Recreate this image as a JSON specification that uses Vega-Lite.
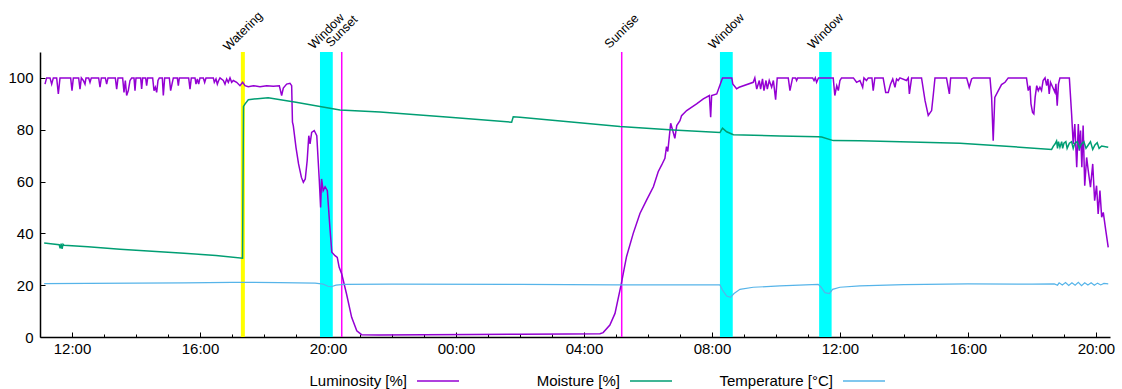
{
  "$schema": "https://vega.github.io/schema/vega-lite/v6.json",
  "width": 1070,
  "height": 285,
  "autosize": {"type": "none"},
  "padding": {"left": 40, "top": 52, "right": 12, "bottom": 52},
  "background": "white",
  "config": {"font": "Liberation Sans", "view": {"stroke": null}},
  "datasets": {
    "windows": [
      {"h": 19.75, "h2": 20.15},
      {"h": 32.25, "h2": 32.65},
      {"h": 35.35, "h2": 35.74}
    ],
    "watering": [{"h": 17.34}],
    "sun": [{"h": 20.43}, {"h": 29.18}],
    "labels": [
      {"h": 17.34, "label": "Watering"},
      {"h": 19.95, "label": "Window"},
      {"h": 20.43, "label": "Sunset"},
      {"h": 29.18, "label": "Sunrise"},
      {"h": 32.45, "label": "Window"},
      {"h": 35.55, "label": "Window"}
    ],
    "lum": [
      {"h":11.156,"v":97.6},{"h":11.208,"v":100},{"h":11.313,"v":100},{"h":11.365,"v":97.6},{"h":11.417,"v":100},
      {"h":11.521,"v":100},{"h":11.573,"v":93.8},{"h":11.625,"v":100},{"h":11.958,"v":100},{"h":12.0,"v":95.1},
      {"h":12.042,"v":100},{"h":12.208,"v":100},{"h":12.25,"v":95.7},{"h":12.292,"v":100},{"h":12.354,"v":99.0},
      {"h":12.406,"v":97.6},{"h":12.438,"v":100},{"h":12.521,"v":100},{"h":12.563,"v":98.3},{"h":12.604,"v":100},
      {"h":12.833,"v":100},{"h":12.875,"v":96.4},{"h":12.917,"v":100},{"h":13.042,"v":100},{"h":13.083,"v":97.6},
      {"h":13.125,"v":100},{"h":13.354,"v":100},{"h":13.396,"v":95.7},{"h":13.438,"v":100},{"h":13.583,"v":100},
      {"h":13.625,"v":94.4},{"h":13.667,"v":99.0},{"h":13.708,"v":93.2},{"h":13.76,"v":95.1},{"h":13.813,"v":99.0},
      {"h":13.865,"v":100},{"h":13.938,"v":100},{"h":13.969,"v":95.1},{"h":14.0,"v":100},{"h":14.146,"v":100},
      {"h":14.177,"v":95.7},{"h":14.208,"v":100},{"h":14.302,"v":100},{"h":14.333,"v":97.0},{"h":14.365,"v":100},
      {"h":14.521,"v":100},{"h":14.563,"v":95.1},{"h":14.604,"v":96.4},{"h":14.646,"v":94.4},{"h":14.688,"v":99.0},
      {"h":14.729,"v":100},{"h":14.823,"v":100},{"h":14.854,"v":93.2},{"h":14.896,"v":100},{"h":15.042,"v":100},
      {"h":15.083,"v":95.1},{"h":15.125,"v":97.6},{"h":15.167,"v":100},{"h":15.292,"v":100},{"h":15.323,"v":97.0},
      {"h":15.354,"v":100},{"h":15.646,"v":100},{"h":15.688,"v":95.7},{"h":15.729,"v":100},{"h":15.844,"v":100},
      {"h":15.875,"v":97.6},{"h":15.917,"v":99.6},{"h":15.958,"v":97.6},{"h":16.0,"v":100},{"h":16.104,"v":100},
      {"h":16.146,"v":98.3},{"h":16.188,"v":100},{"h":16.417,"v":100},{"h":16.448,"v":98.3},{"h":16.5,"v":99.6},
      {"h":16.542,"v":97.6},{"h":16.583,"v":99.0},{"h":16.625,"v":100},{"h":16.729,"v":99.0},{"h":16.781,"v":97.6},
      {"h":16.833,"v":99.6},{"h":16.885,"v":98.3},{"h":16.938,"v":100},{"h":16.99,"v":98.3},{"h":17.042,"v":99.0},
      {"h":17.146,"v":98.3},{"h":17.25,"v":97.0},{"h":17.333,"v":98.3},{"h":17.406,"v":97.0},{"h":17.51,"v":96.6},
      {"h":17.667,"v":97.0},{"h":17.875,"v":96.6},{"h":18.083,"v":97.0},{"h":18.292,"v":96.8},{"h":18.479,"v":97.0},
      {"h":18.552,"v":93.2},{"h":18.604,"v":96.1},{"h":18.708,"v":97.6},{"h":18.813,"v":97.9},{"h":18.865,"v":97.0},
      {"h":18.89,"v":82.9},{"h":18.916,"v":81.6},{"h":19.0,"v":73.2},{"h":19.08,"v":66.8},{"h":19.17,"v":61.6},
      {"h":19.23,"v":59.7},{"h":19.29,"v":61.0},{"h":19.35,"v":68.1},{"h":19.40,"v":77.7},{"h":19.44,"v":74.5},
      {"h":19.49,"v":79.0},{"h":19.57,"v":79.7},{"h":19.65,"v":77.7},{"h":19.73,"v":60.1},{"h":19.77,"v":50.0},
      {"h":19.80,"v":61.0},{"h":19.85,"v":56.5},{"h":19.91,"v":58.0},{"h":19.98,"v":56.5},{"h":20.06,"v":42.3},
      {"h":20.12,"v":32.7},{"h":20.22,"v":31.4},{"h":20.29,"v":30.7},{"h":20.35,"v":26.9},{"h":20.43,"v":24.3},
      {"h":20.58,"v":16.6},{"h":20.74,"v":7.6},{"h":20.90,"v":2.4},{"h":21.05,"v":0.9},{"h":21.6,"v":0.8},
      {"h":23.0,"v":0.9},{"h":24.5,"v":1.0},{"h":26.0,"v":1.1},{"h":27.5,"v":1.2},{"h":28.5,"v":1.3},
      {"h":28.6,"v":1.7},{"h":28.81,"v":4.6},{"h":28.97,"v":9.1},{"h":29.16,"v":20.1},{"h":29.33,"v":31.0},
      {"h":29.54,"v":40.0},{"h":29.75,"v":47.7},{"h":29.96,"v":52.9},{"h":30.17,"v":58.0},{"h":30.32,"v":63.8},
      {"h":30.43,"v":66.4},{"h":30.53,"v":69.0},{"h":30.58,"v":73.5},{"h":30.62,"v":71.6},{"h":30.71,"v":82.5},
      {"h":30.77,"v":79.9},{"h":30.84,"v":76.7},{"h":30.90,"v":81.6},{"h":31.0,"v":83.5},{"h":31.05,"v":85.4},
      {"h":31.21,"v":87.4},{"h":31.52,"v":90.0},{"h":31.73,"v":91.9},{"h":31.92,"v":93.2},{"h":31.96,"v":84.8},
      {"h":31.99,"v":93.2},{"h":32.15,"v":93.8},{"h":32.33,"v":100},{"h":32.62,"v":100},{"h":32.65,"v":97.7},
      {"h":32.77,"v":95.8},{"h":32.85,"v":96.4},{"h":33.29,"v":98.3},{"h":33.34,"v":100},{"h":33.40,"v":95.7},
      {"h":33.48,"v":99.0},{"h":33.52,"v":95.7},{"h":33.58,"v":99.6},{"h":33.625,"v":95.1},{"h":33.69,"v":99.0},
      {"h":33.73,"v":95.7},{"h":33.79,"v":99.0},{"h":33.865,"v":96.4},{"h":33.92,"v":99.0},{"h":33.99,"v":91.6},
      {"h":34.04,"v":100},{"h":34.385,"v":100},{"h":34.438,"v":95.1},{"h":34.52,"v":100},{"h":34.615,"v":100},
      {"h":34.646,"v":99.0},{"h":34.68,"v":100},{"h":35.146,"v":100},{"h":35.19,"v":99.0},{"h":35.23,"v":100},
      {"h":35.27,"v":98.3},{"h":35.33,"v":100},{"h":35.79,"v":100},{"h":35.84,"v":93.2},{"h":35.90,"v":97.0},
      {"h":35.95,"v":95.1},{"h":36.0,"v":99.0},{"h":36.05,"v":100},{"h":36.42,"v":100},{"h":36.52,"v":98.3},
      {"h":36.625,"v":99.0},{"h":36.71,"v":96.4},{"h":36.75,"v":100},{"h":36.83,"v":99.0},{"h":36.885,"v":100},
      {"h":37.0,"v":100},{"h":37.04,"v":95.1},{"h":37.09,"v":100},{"h":37.35,"v":100},{"h":37.43,"v":94.4},
      {"h":37.51,"v":94.4},{"h":37.58,"v":97.6},{"h":37.65,"v":99.6},{"h":37.72,"v":96.4},{"h":37.77,"v":99.6},
      {"h":37.82,"v":99.0},{"h":37.875,"v":100},{"h":38.08,"v":99.0},{"h":38.135,"v":100},{"h":38.17,"v":93.8},
      {"h":38.24,"v":100},{"h":38.55,"v":100},{"h":38.66,"v":91.2},{"h":38.76,"v":85.5},{"h":38.865,"v":87.4},
      {"h":38.92,"v":93.8},{"h":38.97,"v":100},{"h":39.33,"v":100},{"h":39.42,"v":93.8},{"h":39.46,"v":100},
      {"h":39.96,"v":100},{"h":40.04,"v":96.4},{"h":40.115,"v":99.6},{"h":40.17,"v":100},{"h":40.69,"v":100},
      {"h":40.74,"v":92.5},{"h":40.79,"v":75.8},{"h":40.84,"v":92.5},{"h":40.95,"v":95.1},{"h":41.05,"v":97.4},
      {"h":41.16,"v":98.3},{"h":41.26,"v":100},{"h":41.83,"v":100},{"h":41.885,"v":95.1},{"h":41.94,"v":97.0},
      {"h":41.97,"v":90.0},{"h":42.02,"v":86.7},{"h":42.06,"v":86.1},{"h":42.10,"v":92.5},{"h":42.15,"v":97.0},
      {"h":42.20,"v":95.1},{"h":42.25,"v":96.4},{"h":42.30,"v":95.1},{"h":42.35,"v":99.0},{"h":42.41,"v":100},
      {"h":42.46,"v":97.0},{"h":42.5,"v":99.6},{"h":42.54,"v":93.8},{"h":42.58,"v":98.3},{"h":42.65,"v":96.4},
      {"h":42.72,"v":94.4},{"h":42.75,"v":97.7},{"h":42.79,"v":89.3},{"h":42.83,"v":97.7},{"h":42.875,"v":100},
      {"h":43.17,"v":100},{"h":43.24,"v":86.1},{"h":43.29,"v":74.5},{"h":43.34,"v":82.2},{"h":43.40,"v":65.5},
      {"h":43.45,"v":82.2},{"h":43.48,"v":71.9},{"h":43.52,"v":79.7},{"h":43.56,"v":65.5},{"h":43.60,"v":81.6},
      {"h":43.65,"v":58.4},{"h":43.71,"v":69.3},{"h":43.76,"v":64.2},{"h":43.83,"v":57.8},{"h":43.90,"v":66.8},
      {"h":43.96,"v":52.6},{"h":44.02,"v":58.4},{"h":44.07,"v":47.5},{"h":44.125,"v":56.5},{"h":44.18,"v":46.2},
      {"h":44.23,"v":48.1},{"h":44.31,"v":41.0},{"h":44.385,"v":34.6}
    ],
    "moi": [
      {"h":11.13,"v":36.3},{"h":11.4,"v":35.9},{"h":11.6,"v":35.6},{"h":11.63,"v":34.2},{"h":11.66,"v":36.0},
      {"h":11.69,"v":34.0},{"h":11.72,"v":35.8},{"h":11.75,"v":35.4},{"h":12.5,"v":34.8},{"h":13.5,"v":33.9},
      {"h":14.5,"v":33.1},{"h":15.5,"v":32.3},{"h":16.5,"v":31.5},{"h":17.33,"v":30.4},{"h":17.36,"v":89.0},
      {"h":17.41,"v":90.0},{"h":17.51,"v":91.6},{"h":17.8,"v":92.0},{"h":18.13,"v":92.3},{"h":19.0,"v":90.6},
      {"h":19.75,"v":89.0},{"h":20.375,"v":87.6},{"h":21.625,"v":86.8},{"h":23.7,"v":84.9},{"h":25.74,"v":82.9},
      {"h":25.79,"v":85.0},{"h":26.0,"v":84.8},{"h":29.125,"v":81.2},{"h":30.79,"v":79.9},{"h":32.25,"v":78.9},
      {"h":32.33,"v":80.6},{"h":32.46,"v":79.2},{"h":32.67,"v":78.1},{"h":34.125,"v":77.6},{"h":35.32,"v":77.3},
      {"h":35.43,"v":77.2},{"h":35.79,"v":75.8},{"h":36.625,"v":75.7},{"h":38.2,"v":75.3},{"h":39.75,"v":74.8},
      {"h":41.2,"v":73.6},{"h":42.615,"v":72.4},{"h":42.67,"v":73.7},{"h":42.72,"v":74.5},{"h":42.77,"v":75.7},
      {"h":42.80,"v":72.8},{"h":42.83,"v":75.4},{"h":42.875,"v":73.2},{"h":42.93,"v":75.4},{"h":42.96,"v":72.8},
      {"h":43.0,"v":74.8},{"h":43.06,"v":75.4},{"h":43.10,"v":72.8},{"h":43.17,"v":74.8},{"h":43.24,"v":75.4},
      {"h":43.29,"v":72.8},{"h":43.34,"v":74.8},{"h":43.42,"v":75.4},{"h":43.48,"v":72.8},{"h":43.55,"v":74.5},
      {"h":43.625,"v":75.4},{"h":43.69,"v":72.8},{"h":43.76,"v":74.1},{"h":43.83,"v":75.4},{"h":43.90,"v":72.4},
      {"h":43.97,"v":74.1},{"h":44.04,"v":75.0},{"h":44.10,"v":72.8},{"h":44.18,"v":73.7},{"h":44.385,"v":73.2}
    ],
    "tem": [
      {"h":11.13,"v":20.6},{"h":12.5,"v":20.7},{"h":14.0,"v":20.8},{"h":15.5,"v":20.9},{"h":17.0,"v":21.1},
      {"h":18.5,"v":21.0},{"h":19.6,"v":20.8},{"h":19.85,"v":20.4},{"h":20.0,"v":19.6},{"h":20.1,"v":19.4},
      {"h":20.25,"v":20.0},{"h":20.5,"v":20.3},{"h":22.0,"v":20.4},{"h":26.0,"v":20.3},{"h":29.0,"v":20.1},
      {"h":32.25,"v":20.1},{"h":32.33,"v":18.1},{"h":32.46,"v":15.8},{"h":32.58,"v":15.3},{"h":32.69,"v":16.8},
      {"h":32.875,"v":18.4},{"h":33.29,"v":19.2},{"h":34.125,"v":19.7},{"h":35.32,"v":20.3},{"h":35.40,"v":19.4},
      {"h":35.53,"v":17.1},{"h":35.67,"v":16.8},{"h":35.77,"v":18.4},{"h":36.0,"v":19.2},{"h":36.625,"v":19.7},
      {"h":38.0,"v":20.2},{"h":40.0,"v":20.5},{"h":42.0,"v":20.4},{"h":42.7,"v":20.5},{"h":42.8,"v":20.0},
      {"h":42.85,"v":20.9},{"h":42.95,"v":20.1},{"h":43.05,"v":21.0},{"h":43.15,"v":19.9},{"h":43.25,"v":20.9},
      {"h":43.35,"v":20.0},{"h":43.45,"v":21.1},{"h":43.55,"v":19.8},{"h":43.65,"v":20.9},{"h":43.75,"v":20.1},
      {"h":43.85,"v":20.9},{"h":43.95,"v":20.0},{"h":44.05,"v":20.8},{"h":44.15,"v":20.1},{"h":44.25,"v":20.7},
      {"h":44.385,"v":20.5}
    ]
  },
  "encoding": {
    "x": {
      "field": "h",
      "type": "quantitative",
      "title": null,
      "scale": {"domain": [11, 44.44], "nice": false, "zero": false},
      "axis": {
        "values": [12,13,14,15,16,17,18,19,20,21,22,23,24,25,26,27,28,29,30,31,32,33,34,35,36,37,38,39,40,41,42,43,44],
        "labelExpr": "datum.value % 4 === 0 ? format(datum.value % 24, '02d') + ':00' : ''",
        "tickSize": {"condition": {"test": "datum.value % 4 === 0", "value": -5}, "value": -3},
        "tickColor": "black",
        "tickWidth": 1,
        "labelPadding": 9,
        "labelFontSize": 15,
        "labelFont": "Liberation Sans",
        "labelColor": "black",
        "labelOverlap": false,
        "labelFlush": false,
        "domainColor": "black",
        "domainWidth": 1.5,
        "grid": false
      }
    }
  },
  "layer": [
    {
      "data": {"name": "windows"},
      "mark": {"type": "rect", "color": "#00ffff", "opacity": 1},
      "encoding": {"x2": {"field": "h2"}}
    },
    {
      "data": {"name": "watering"},
      "mark": {"type": "rule", "color": "#ffff00", "strokeWidth": 4},
      "encoding": {}
    },
    {
      "data": {"name": "sun"},
      "mark": {"type": "rule", "color": "#ff00ff", "strokeWidth": 1.5},
      "encoding": {}
    },
    {
      "data": {"name": "labels"},
      "mark": {"type": "text", "angle": 315, "align": "center", "baseline": "middle", "fontSize": 12.5, "font": "Liberation Sans", "color": "black"},
      "encoding": {
        "y": {"datum": 118, "type": "quantitative"},
        "text": {"field": "label"}
      }
    },
    {
      "data": {"name": "lum"},
      "mark": {"type": "line", "strokeWidth": 1.5},
      "encoding": {
        "y": {
          "field": "v", "type": "quantitative", "title": null,
          "scale": {"domain": [0, 110], "nice": false, "zero": false},
          "axis": {
            "values": [0, 20, 40, 60, 80, 100],
            "tickSize": -5, "tickColor": "black", "labelPadding": 12,
            "labelFontSize": 15, "labelFont": "Liberation Sans", "labelColor": "black",
            "domainColor": "black", "domainWidth": 1.5, "grid": false, "labelFlush": false
          }
        },
        "color": {
          "datum": "Luminosity [%]",
          "type": "nominal",
          "scale": {
            "domain": ["Luminosity [%]", "Moisture [%]", "Temperature [°C]"],
            "range": ["#9400d3", "#009e73", "#56b4e9"]
          },
          "legend": {
            "orient": "none", "legendX": 253, "legendY": 307, "direction": "horizontal",
            "title": null, "symbolType": "stroke", "symbolSize": 1764, "symbolStrokeWidth": 1.5,
            "labelFontSize": 15, "labelFont": "Liberation Sans", "labelColor": "black",
            "labelAlign": "right", "labelOffset": -53, "symbolOffset": 123,
            "gridAlign": "all", "columnPadding": 44, "padding": 0, "labelLimit": 200
          }
        }
      }
    },
    {
      "data": {"name": "moi"},
      "mark": {"type": "line", "strokeWidth": 1.5},
      "encoding": {
        "y": {"field": "v", "type": "quantitative"},
        "color": {"datum": "Moisture [%]", "type": "nominal"}
      }
    },
    {
      "data": {"name": "tem"},
      "mark": {"type": "line", "strokeWidth": 1.2},
      "encoding": {
        "y": {"field": "v", "type": "quantitative"},
        "color": {"datum": "Temperature [°C]", "type": "nominal"}
      }
    }
  ]
}
